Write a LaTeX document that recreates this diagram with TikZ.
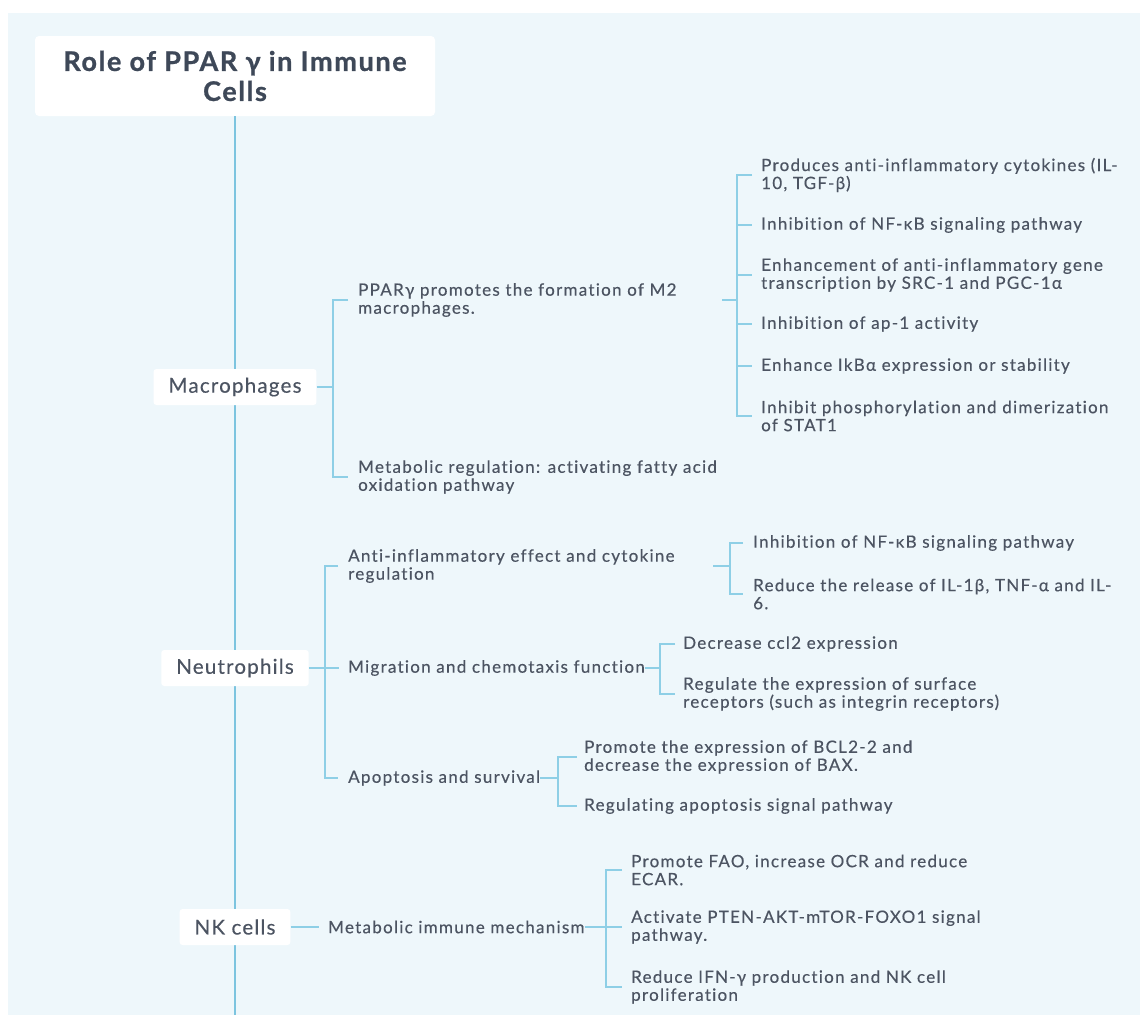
\documentclass[tikz,border=0pt]{standalone}
\usepackage{fontspec}
\setmainfont{Lato}[Ligatures=NoCommon]
\newfontfamily\bodyf{Lato}[LetterSpace=7.5, Ligatures=NoCommon, FakeBold=0.35]
\newfontfamily\catf{Lato}[LetterSpace=6, Ligatures=NoCommon, FakeBold=0.35]
\newfontfamily\ttlf{Lato}[LetterSpace=6, Ligatures=NoCommon, BoldFeatures={FakeBold=0.9}]
\definecolor{bgc}{HTML}{EEF7FB}
\definecolor{linec}{HTML}{8ECFE6}
\definecolor{trunkc}{HTML}{7CC4DF}
\definecolor{txt}{HTML}{4C5462}
\definecolor{ttltxt}{HTML}{3E4858}
\newcommand\myitemfont{\bodyf\fontsize{17}{18}\selectfont}
\newcommand\mycatfont{\catf\fontsize{20.5}{22}\selectfont}
\newcommand\myttlfont{\ttlf\bfseries\fontsize{27}{30}\selectfont}
\tikzset{
  trunk/.style={draw=trunkc, line width=2.4pt},
  br/.style={draw=linec, line width=1.5pt},
  cat/.style={fill=white, rounded corners=3pt, inner xsep=15pt, inner ysep=0pt, minimum height=36pt, font=\mycatfont, text=txt},
  item/.style={anchor=west, inner sep=0pt, align=left, font=\myitemfont, text=txt},
  ttl/.style={fill=white, rounded corners=4pt, minimum width=400pt, minimum height=80pt, align=center, font=\myttlfont, text=ttltxt, inner sep=0pt}
}
\begin{document}
\begin{tikzpicture}[x=1pt,y=-1pt]
\useasboundingbox (0,0) rectangle (1140,1015);
\fill[white] (0,0) rectangle (1140,1015);
\fill[bgc] (8,13) rectangle (1140,1015);

% title and trunk
\node[ttl] (title) at (235,76) {Role of PPAR γ in Immune\\Cells};
\coordinate (trunkend) at (235,1015);
\draw[trunk] (title.south) -- (trunkend);

% ---------- Macrophages ----------
\node[cat] (mac) at (235,387) {Macrophages};
\node[item, text width=364pt] (m1) at (358,300) {PPARγ promotes the formation of M2\\macrophages.};
\node[item] (m2) at (358,477) {Metabolic regulation: activating fatty acid\\oxidation pathway};
\coordinate (macB) at (333,387);
\draw[br] (mac.east) -- (macB);
\draw[br] ([xshift=-10pt]m1.west) -- (m1.west -| macB) -- (m2.west -| macB) -- ([xshift=-10pt]m2.west);

\node[item] (l1) at (761,175) {Produces anti-inflammatory cytokines (IL-\\10, TGF-β)};
\node[item] (l2) at (761,225) {Inhibition of NF-κB signaling pathway};
\node[item] (l3) at (761,275) {Enhancement of anti-inflammatory gene\\transcription by SRC-1 and PGC-1α};
\node[item] (l4) at (761,324) {Inhibition of ap-1 activity};
\node[item] (l5) at (761,366) {Enhance IkBα expression or stability};
\node[item] (l6) at (761,416) {Inhibit phosphorylation and dimerization\\of STAT1};
\coordinate (lB) at (737,300);
\draw[br] (m1.east) -- (m1.east -| lB);
\draw[br] ([xshift=-9pt]l1.west) -- (l1.west -| lB) -- (l6.west -| lB) -- ([xshift=-9pt]l6.west);
\foreach \n in {l2,l3,l4,l5} \draw[br] (\n.west -| lB) -- ([xshift=-9pt]\n.west);

% ---------- Neutrophils ----------
\node[cat] (neu) at (235,668) {Neutrophils};
\node[item, text width=365pt] (n1) at (348,566) {Anti-inflammatory effect and cytokine\\regulation};
\node[item] (n2) at (348,668) {Migration and chemotaxis function};
\node[item] (n3) at (348,778) {Apoptosis and survival};
\coordinate (neuB) at (325,668);
\draw[br] (neu.east) -- ([xshift=-9pt]n2.west);
\draw[br] ([xshift=-10pt]n1.west) -- (n1.west -| neuB) -- (n3.west -| neuB) -- ([xshift=-10pt]n3.west);

\node[item] (a1) at (753,543) {Inhibition of NF-κB signaling pathway};
\node[item] (a2) at (753,594) {Reduce the release of IL-1β, TNF-α and IL-\\6.};
\coordinate (aB) at (730,566);
\draw[br] (n1.east) -- (n1.east -| aB);
\draw[br] ([xshift=-10pt]a1.west) -- (a1.west -| aB) -- (a2.west -| aB) -- ([xshift=-10pt]a2.west);

\node[item] (g1) at (683,644) {Decrease ccl2 expression};
\node[item] (g2) at (683,694) {Regulate the expression of surface\\receptors (such as integrin receptors)};
\coordinate (gB) at (660,668);
\draw[br] (n2.east) -- (n2.east -| gB);
\draw[br] ([xshift=-8pt]g1.west) -- (g1.west -| gB) -- (g2.west -| gB) -- ([xshift=-8pt]g2.west);

\node[item] (p1) at (584,757) {Promote the expression of BCL2-2 and\\decrease the expression of BAX.};
\node[item] (p2) at (584,806) {Regulating apoptosis signal pathway};
\coordinate (pB) at (558,778);
\draw[br] (n3.east) -- (n3.east -| pB);
\draw[br] ([xshift=-7pt]p1.west) -- (p1.west -| pB) -- (p2.west -| pB) -- ([xshift=-7pt]p2.west);

% ---------- NK cells ----------
\node[cat] (nk) at (235,927) {NK cells};
\node[item] (k1) at (328,927) {Metabolic immune mechanism};
\draw[br] (nk.east) -- ([xshift=-9pt]k1.west);

\node[item] (q1) at (631,870) {Promote FAO, increase OCR and reduce\\ECAR.};
\node[item] (q2) at (631,927) {Activate PTEN-AKT-mTOR-FOXO1 signal\\pathway.};
\node[item] (q3) at (631,987) {Reduce IFN-γ production and NK cell\\proliferation};
\coordinate (qB) at (606,927);
\draw[br] (k1.east) -- ([xshift=-9pt]q2.west |- k1.east);
\draw[br] ([xshift=-9pt]q1.west) -- (q1.west -| qB) -- (q3.west -| qB) -- ([xshift=-9pt]q3.west);
\end{tikzpicture}
\end{document}
